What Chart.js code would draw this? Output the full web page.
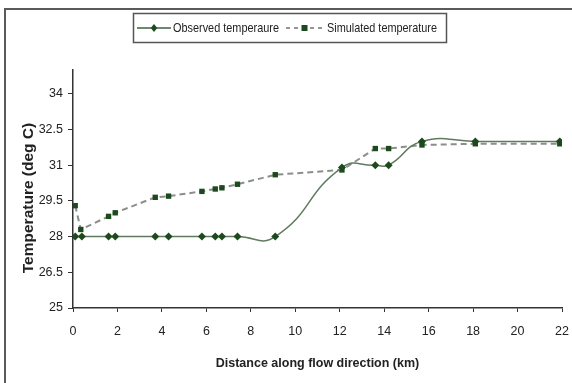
<!DOCTYPE html>
<html>
<head>
<meta charset="utf-8">
<script src="https://cdn.jsdelivr.net/npm/chart.js@4/dist/chart.umd.min.js"></script>
<style>
html,body{margin:0;padding:0;background:#fff;}
#wrap{position:relative;width:572px;height:383px;}
</style>
</head>
<body>
<div id="wrap"><canvas id="c" width="572" height="383"></canvas></div>
<script>
const observedX = [0.1, 0.4, 1.6, 1.9, 3.7, 4.3, 5.8, 6.4, 6.7, 7.4, 9.1, 12.1, 13.6, 14.2, 15.7, 18.1, 21.9];
const observedY = [28, 28, 28, 28, 28, 28, 28, 28, 28, 28, 28, 30.9, 31, 31, 32, 32, 32];
const simulatedX = [0.1, 0.35, 1.6, 1.9, 3.7, 4.3, 5.8, 6.4, 6.7, 7.4, 9.1, 12.1, 13.6, 14.2, 15.7, 18.1, 21.9];
const simulatedY = [29.3, 28.3, 28.85, 29.0, 29.65, 29.7, 29.9, 30.0, 30.05, 30.2, 30.6, 30.8, 31.7, 31.7, 31.85, 31.9, 31.9];
const xTicks = [0, 2, 4, 6, 8, 10, 12, 14, 16, 18, 20, 22];
const yTicks = [25, 26.5, 28, 29.5, 31, 32.5, 34];
const seriesLabels = ['Observed temperaure', 'Simulated temperature'];
const xTitle = 'Distance along flow direction (km)';
const yTitle = 'Temperature (deg C)';

const SANS = '"Liberation Sans", Arial, sans-serif';
const MARK = '#1d4a1d';
const OBS_LINE = '#5f7a5f';
const SIM_LINE = '#8a8f8a';

function toPts(xs, ys){ return xs.map((x,i)=>({x:x, y:ys[i]})); }

const framePlugin = {
  id: 'frame',
  beforeDraw(chart){
    const ctx = chart.ctx;
    ctx.save();
    ctx.strokeStyle = '#5a5a5a';
    ctx.lineWidth = 2;
    ctx.beginPath();
    ctx.moveTo(5, 383);
    ctx.lineTo(5, 9);
    ctx.lineTo(572, 9);
    ctx.stroke();
    ctx.restore();
  }
};

function drawDiamond(ctx, x, y, r){
  ctx.beginPath();
  ctx.moveTo(x, y - r); ctx.lineTo(x + r*0.8, y); ctx.lineTo(x, y + r); ctx.lineTo(x - r*0.8, y); ctx.closePath();
  ctx.fill();
}

function fitText(ctx, text, x, y, width){
  const w = ctx.measureText(text).width;
  const s = Math.min(1, width / w);
  ctx.save();
  ctx.translate(x, y);
  ctx.scale(s, 1);
  ctx.fillText(text, 0, 0);
  ctx.restore();
}

const legendPlugin = {
  id: 'boxLegend',
  afterDraw(chart){
    const ctx = chart.ctx;
    ctx.save();
    ctx.strokeStyle = '#555';
    ctx.lineWidth = 1.5;
    ctx.strokeRect(133.5, 13.5, 313, 29);
    const cy = 28;
    ctx.strokeStyle = '#3f5f3f'; ctx.lineWidth = 1.5; ctx.setLineDash([]);
    ctx.beginPath(); ctx.moveTo(137, cy); ctx.lineTo(171, cy); ctx.stroke();
    ctx.fillStyle = MARK; drawDiamond(ctx, 154, cy, 4);
    ctx.strokeStyle = '#707570'; ctx.lineWidth = 1.5; ctx.setLineDash([4,4]);
    ctx.beginPath(); ctx.moveTo(286, cy); ctx.lineTo(325, cy); ctx.stroke();
    ctx.setLineDash([]);
    ctx.fillStyle = MARK; ctx.fillRect(301.5, cy-3, 6, 6);
    ctx.fillStyle = '#222';
    ctx.font = '13.5px ' + SANS;
    ctx.textBaseline = 'middle';
    ctx.textAlign = 'left';
    fitText(ctx, seriesLabels[0], 173, cy, 106);
    fitText(ctx, seriesLabels[1], 327, cy, 110);
    ctx.save();
    ctx.translate(29, 198);
    ctx.rotate(-Math.PI/2);
    ctx.font = 'bold 15.5px ' + SANS;
    ctx.textAlign = 'center';
    ctx.textBaseline = 'middle';
    ctx.fillText(yTitle, 0, 0);
    ctx.restore();
    ctx.restore();
  }
};

new Chart(document.getElementById('c'), {
  type: 'scatter',
  data: {
    datasets: [
      {
        label: seriesLabels[0],
        data: toPts(observedX, observedY),
        showLine: true,
        borderColor: OBS_LINE,
        borderWidth: 1.5,
        tension: 0.5,
        pointStyle: 'rectRot',
        pointRadius: 4,
        pointBackgroundColor: MARK,
        pointBorderColor: MARK,
        pointBorderWidth: 0,
        order: 1
      },
      {
        label: seriesLabels[1],
        data: toPts(simulatedX, simulatedY),
        showLine: true,
        borderColor: SIM_LINE,
        borderWidth: 2,
        borderDash: [6, 4],
        tension: 0,
        pointStyle: 'rect',
        pointRadius: 3.8,
        pointBackgroundColor: MARK,
        pointBorderColor: MARK,
        pointBorderWidth: 0,
        order: 2
      }
    ]
  },
  options: {
    responsive: false,
    animation: false,
    layout: { padding: { left: 0, top: 70, right: 10, bottom: 0 } },
    plugins: { legend: { display: false }, tooltip: { enabled: false } },
    scales: {
      x: {
        type: 'linear',
        min: 0, max: 22,
        afterBuildTicks(scale){ scale.ticks = xTicks.map(v=>({value:v})); },
        afterFit(scale){ scale.height = 75; scale.paddingLeft = 0; scale.paddingRight = 0; },
        grid: { drawOnChartArea: false, drawTicks: true, tickLength: 4, color: '#333', lineWidth: 1 },
        border: { display: true, color: '#333', width: 1.5 },
        ticks: { color: '#222', font: { family: SANS, size: 12.5 }, padding: 12, maxRotation: 0, autoSkip: false },
        title: { display: true, text: xTitle, color: '#222', font: { family: SANS, size: 12.5, weight: 'bold' }, padding: { top: 0, bottom: 12 } }
      },
      y: {
        type: 'linear',
        min: 25, max: 35,
        afterBuildTicks(scale){ scale.ticks = yTicks.map(v=>({value:v})); },
        afterFit(scale){ scale.width = 73; scale.paddingTop = 0; scale.paddingBottom = 0; },
        grid: { drawOnChartArea: false, drawTicks: true, tickLength: 5, color: '#333', lineWidth: 1 },
        border: { display: true, color: '#333', width: 1.5 },
        ticks: { color: '#222', font: { family: SANS, size: 12.5 }, padding: 5, autoSkip: false },
        title: { display: false, text: yTitle }
      }
    }
  },
  plugins: [framePlugin, legendPlugin]
});
</script>
</body>
</html>
